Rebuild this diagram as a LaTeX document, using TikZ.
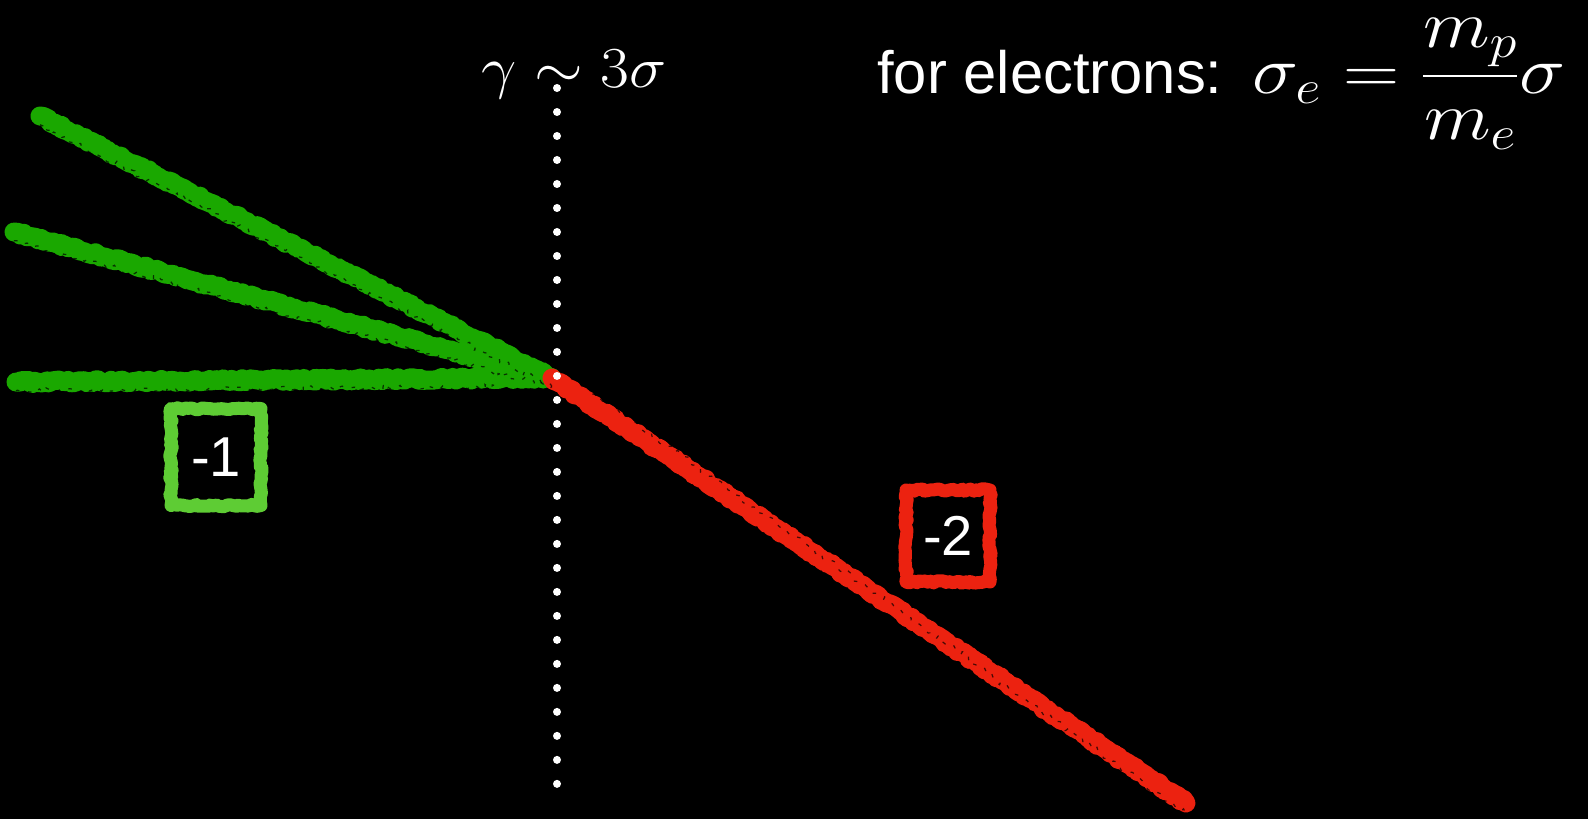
\RequirePackage{fix-cm}
\documentclass[tikz,border=0pt]{standalone}
\usepackage{amsmath}
\usepackage[no-math]{fontspec}
\newfontfamily\labelfont{Liberation Sans}
\usetikzlibrary{decorations.pathmorphing}
\definecolor{linegreen}{RGB}{26,168,0}
\definecolor{boxgreen}{RGB}{94,204,52}
\definecolor{chalkred}{RGB}{236,34,16}
\tikzset{
  chalkln/.style={line width=0.38cm, line cap=round, line join=round,
    decorate, decoration={random steps, segment length=1.6pt, amplitude=0.9pt}},
  chalkgap/.style={black, opacity=0.7, line width=0.7pt, dash pattern=on 2pt off 5pt,
    decorate, decoration={random steps, segment length=2pt, amplitude=1.6pt}},
  boxln/.style={draw=#1, line width=0.26cm, line join=round, text=white,
    decorate, decoration={random steps, segment length=1.6pt, amplitude=0.7pt},
    font=\labelfont\fontsize{32}{36}\selectfont, inner sep=0pt},
  dotln/.style={white, line width=0.16cm, line cap=round, dash pattern=on 0pt off 0.48cm},
}

\begin{document}
\begin{tikzpicture}[x=0.02cm, y=-0.02cm]
    % background
    \fill[black] (0,0) rectangle (1588,819);
    \useasboundingbox (0,0) rectangle (1588,819);
    % end points
    \coordinate (meet) at (552,378);
    \coordinate (topstart) at (40,116);
    \coordinate (midstart) at (14,232);
    \coordinate (lowstart) at (16,382);
    \coordinate (redend) at (1186,803);
    \coordinate (dottop) at (557,88);
    \coordinate (dotbot) at (557,785);
    % green fan
    \draw[chalkln, linegreen] (topstart) -- (meet);
    \draw[chalkln, linegreen] (midstart) -- (meet);
    \draw[chalkln, linegreen] (lowstart) -- (meet);
    % red branch
    \draw[chalkln, chalkred] (meet) -- (redend);
    % chalk texture
    \draw[chalkgap] ([yshift=-5]topstart) -- ([yshift=-5]meet);
    \draw[chalkgap] ([yshift=-5]midstart) -- ([yshift=-5]meet);
    \draw[chalkgap] ([yshift=-5]lowstart) -- ([xshift=-30,yshift=-5]meet);
    \draw[chalkgap] ([xshift=20,yshift=-6]meet) -- ([yshift=-6]redend);
    % dotted cut
    \draw[dotln] (dottop) -- (dotbot);
    % labels
    \node[white, anchor=base, xscale=1.08, font=\fontsize{33}{38}\selectfont] (gamlbl)
      at (574,87) {$\gamma \sim 3\sigma$};
    \node[white, anchor=base west, inner sep=0pt,
      font=\labelfont\fontsize{34}{40}\selectfont] (eleclbl) at (877,93) {for electrons:};
    \node[white, anchor=base west, inner sep=0pt, xscale=1.15,
      font=\fontsize{38.5}{44}\selectfont] (sigmalbl) at (1252,93)
      {$\sigma_e = \dfrac{m_p}{m_e}\sigma$};
    % slopes
    \node[boxln=boxgreen, minimum width=1.8cm, minimum height=1.94cm] (slopea) at (216,457) {-1};
    \node[boxln=chalkred, minimum width=1.68cm, minimum height=1.84cm] (slopeb) at (948,536) {-2};
\end{tikzpicture}
\end{document}
